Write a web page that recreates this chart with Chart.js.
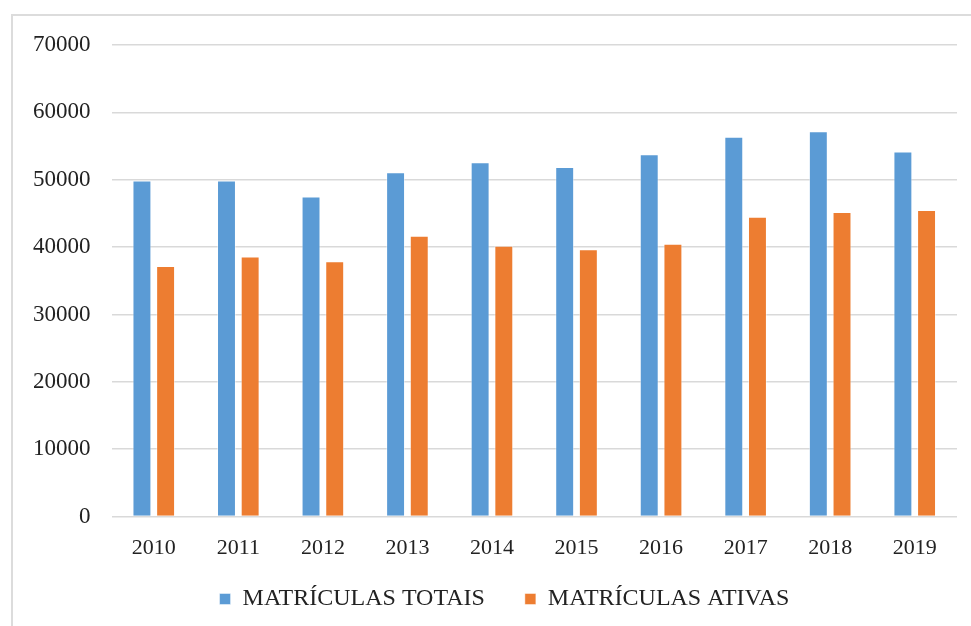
<!DOCTYPE html>
<html lang="pt-BR">
<head>
  <meta charset="UTF-8">
  <title>Matrículas 2010-2019</title>
  <script src="https://cdn.jsdelivr.net/npm/chart.js"></script>
  <style>
    html, body {
      margin: 0;
      padding: 0;
      background: #ffffff;
    }
    .moldura {
      position: relative;
      width: 971px;
      height: 626px;
      overflow: hidden;
    }
    .borda {
      position: absolute;
      left: 11px;
      top: 14px;
      right: -10px;
      bottom: -10px;
      border-top: 2px solid #dcdcdc;
      border-left: 2px solid #dcdcdc;
    }
    canvas {
      position: absolute;
      left: 0;
      top: 0;
    }
  </style>
</head>
<body>
  <div class="moldura">
    <div class="borda"></div>
    <canvas id="graficoMatriculas" width="971" height="626"></canvas>
  </div>

  <script>
    const anos = ['2010', '2011', '2012', '2013', '2014', '2015', '2016', '2017', '2018', '2019'];
    const matriculasTotais = [49900, 49900, 47500, 51100, 52600, 51900, 53800, 56400, 57200, 54200];
    const matriculasAtivas = [37200, 38600, 37900, 41700, 40200, 39700, 40500, 44500, 45200, 45500];

    const fonte = 'Liberation Serif';

    // a legenda usa padding grande (espaço entre os itens), então
    // tiramos essa altura do layout e subimos o desenho na mesma medida
    const ajusteLegenda = 32;
    const deslocLegenda = 20;
    const legendaCompacta = {
      id: 'legendaCompacta',
      beforeInit(chart) {
        const fitOriginal = chart.legend.fit;
        chart.legend.fit = function () {
          fitOriginal.call(this);
          this.height -= ajusteLegenda;
        };
      },
      afterLayout(chart) {
        chart.legend.top -= ajusteLegenda;
        chart.legend.left += deslocLegenda;
        chart.legend.right += deslocLegenda;
      }
    };

    new Chart(document.getElementById('graficoMatriculas'), {
      type: 'bar',
      data: {
        labels: anos,
        datasets: [
          {
            label: 'MATRÍCULAS TOTAIS',
            data: matriculasTotais,
            backgroundColor: '#5b9bd5',
            borderColor: 'rgba(255,255,255,0.45)',
            borderWidth: 1,
            categoryPercentage: 0.56,
            barPercentage: 0.8
          },
          {
            label: 'MATRÍCULAS ATIVAS',
            data: matriculasAtivas,
            backgroundColor: '#ed7d31',
            borderColor: 'rgba(255,255,255,0.45)',
            borderWidth: 1,
            categoryPercentage: 0.56,
            barPercentage: 0.8
          }
        ]
      },
      options: {
        responsive: false,
        animation: false,
        layout: {
          padding: { left: 12, right: 14, top: 45, bottom: 5 }
        },
        scales: {
          x: {
            grid: { display: false, drawTicks: false },
            border: { display: false },
            ticks: {
              color: '#222',
              padding: 18,
              font: { family: fonte, size: 22 }
            }
          },
          y: {
            min: 0,
            max: 70000,
            ticks: {
              stepSize: 10000,
              color: '#222',
              padding: 21,
              font: { family: fonte, size: 23 },
              callback: v => String(v)
            },
            grid: {
              color: '#d9d9d9',
              lineWidth: 1.5,
              drawTicks: false
            },
            border: { display: false }
          }
        },
        plugins: {
          legend: {
            position: 'bottom',
            labels: {
              boxWidth: 11,
              boxHeight: 11,
              padding: 40,
              color: '#222',
              font: { family: fonte, size: 24 }
            }
          },
          tooltip: { enabled: false }
        }
      },
      plugins: [legendaCompacta]
    });
  </script>
</body>
</html>
